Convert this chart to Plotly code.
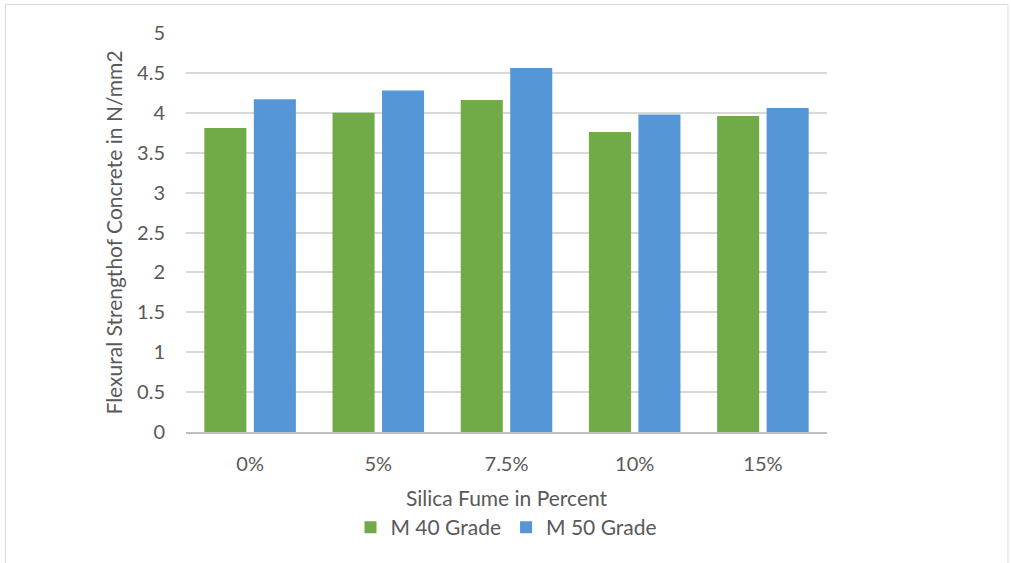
import plotly.graph_objects as go

categories = ["0%", "5%", "7.5%", "10%", "15%"]
m40 = [3.81, 4.00, 4.16, 3.76, 3.96]
m50 = [4.17, 4.28, 4.56, 3.98, 4.06]
y_ticks = [0, 0.5, 1, 1.5, 2, 2.5, 3, 3.5, 4, 4.5, 5]
y_tick_text = ["0", "0.5", "1", "1.5", "2", "2.5", "3", "3.5", "4", "4.5", "5"]

W, H = 1011, 563
L, R, T, B = 186, 184, 33, 131
pw, ph = W - L - R, H - T - B

font = "Lato, Open Sans, sans-serif"
grey = "#595959"

fig = go.Figure()
fig.add_trace(go.Bar(name="M 40 Grade", x=categories, y=m40,
                     marker=dict(color="#70AB48", line=dict(width=0))))
fig.add_trace(go.Bar(name="M 50 Grade", x=categories, y=m50,
                     marker=dict(color="#5596D6", line=dict(width=0))))

def px_x(p):
    return (p - L) / pw

def px_y(p):
    return (H - B - p) / ph

fig.add_shape(type="rect", xref="paper", yref="paper",
              x0=px_x(5.5), x1=px_x(1008), y0=px_y(565), y1=px_y(4.5),
              line=dict(color="#d9d9d9", width=1), fillcolor="rgba(0,0,0,0)")

fig.update_layout(
    width=W, height=H,
    margin=dict(l=L, r=R, t=T, b=B, autoexpand=False),
    paper_bgcolor="white", plot_bgcolor="white",
    barmode="group", bargap=0.228, bargroupgap=0.15,
    font=dict(family=font, color=grey, size=20),
    showlegend=True,
    legend=dict(orientation="h", x=0.5, xanchor="center", y=px_y(548), yanchor="bottom",
                font=dict(size=21, color=grey), itemwidth=30, traceorder="normal"),
    xaxis=dict(showgrid=False, showline=True, linecolor="#bfbfbf", linewidth=1.5,
               ticks="", tickfont=dict(size=20, color=grey), ticklabelstandoff=13,
               title=dict(text="Silica Fume in Percent", font=dict(size=21, color=grey), standoff=18)),
    yaxis=dict(range=[0, 5], tickvals=y_ticks, ticktext=y_tick_text,
               showgrid=True, gridcolor="#d9d9d9", gridwidth=1.5, zeroline=False,
               showline=False, ticks="", tickfont=dict(size=20, color=grey), ticklabelstandoff=20,
               title=dict(text="Flexural Strengthof Concrete in N/mm2", font=dict(size=21, color=grey), standoff=8)),
)

fig.write_html("out.html", config={"displayModeBar": False},
               post_script="document.body.style.margin='0';")
